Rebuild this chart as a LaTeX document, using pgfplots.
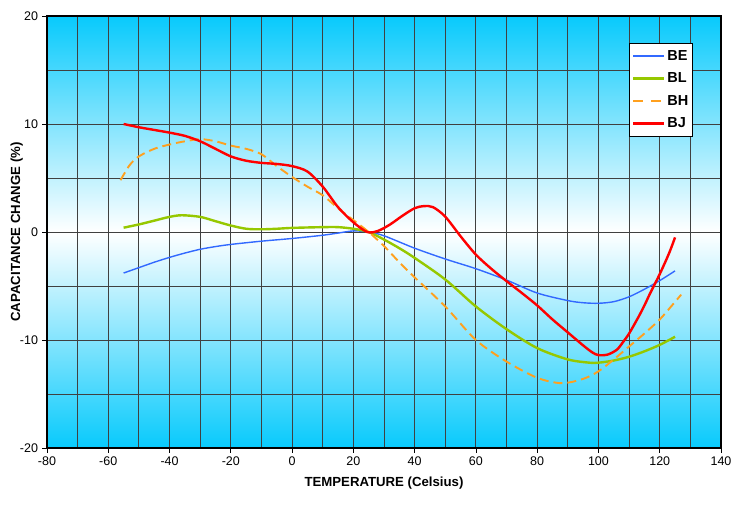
\documentclass[border=0pt]{standalone}
\usepackage{pgfplots}
\pgfplotsset{compat=1.18}
\usepackage{fontspec}
\setmainfont{Liberation Sans}
\definecolor{skyc}{RGB}{8,202,252}
\definecolor{cBE}{RGB}{50,105,255}
\definecolor{cBL}{RGB}{150,200,0}
\definecolor{cBH}{RGB}{255,160,30}
\definecolor{cBJ}{RGB}{255,0,0}
\begin{document}
\begin{tikzpicture}
\begin{axis}[
  scale only axis,
  width=674pt, height=432pt,
  xmin=-80, xmax=140, ymin=-20, ymax=20,
  xtick distance=20, ytick distance=10,
  minor x tick num=1, minor y tick num=1,
  grid=both,
  major grid style={black!75, line width=0.9pt},
  minor grid style={black!75, line width=0.9pt},
  axis line style={black, line width=1.3pt},
  tick align=outside,
  major tick length=4.5pt, minor tick length=0pt,
  xtick pos=bottom, ytick pos=left,
  tick style={black, line width=0.8pt},
  /pgf/number format/assume math mode=true,
  ticklabel style={font=\fontsize{12.5}{14}\selectfont},
  xticklabel style={yshift=-1pt},
  yticklabel style={xshift=-1pt},
  axis background/.style={top color=skyc, bottom color=skyc, middle color=white},
  xlabel={\bfseries TEMPERATURE (Celsius)},
  ylabel={\bfseries CAPACITANCE CHANGE (\%)},
  xlabel style={font=\fontsize{13.2}{15}\selectfont, at={(axis description cs:0.5,-0.081)}, anchor=center},
  ylabel style={font=\fontsize{13.2}{15}\selectfont, at={(axis description cs:-0.045,0.5)}, anchor=center, rotate=0},
  legend style={at={(axis description cs:0.9585,0.9375)}, anchor=north east,
    draw=black, line width=0.6pt, fill=white, font=\fontsize{14.5}{16}\selectfont\bfseries,
    cells={anchor=west}, row sep=7pt, inner xsep=2.5pt, inner ysep=5pt},
  every axis plot/.append style={smooth},
]
\addplot[cBE, line width=1.4pt, legend image code/.code={\draw[cBE, line width=1.4pt] (0pt,0pt) -- (31pt,0pt);}] coordinates {
(-55,-3.8) (-50,-3.3) (-45,-2.8) (-40,-2.35) (-35,-1.95) (-30,-1.6) (-25,-1.35) (-20,-1.15)
(-10,-0.85) (0,-0.6) (10,-0.3) (15,-0.1) (20,0.1) (25,0.0) (30,-0.35) (40,-1.5) (50,-2.5)
(60,-3.4) (70,-4.45) (80,-5.65) (90,-6.35) (95,-6.55) (100,-6.6) (105,-6.45) (110,-6.0)
(115,-5.3) (120,-4.5) (125,-3.6)};
\addlegendentry{BE}
\addplot[cBL, line width=2.4pt, legend image code/.code={\draw[cBL, line width=2.4pt] (0pt,0pt) -- (31pt,0pt);}] coordinates {
(-55,0.4) (-50,0.7) (-45,1.05) (-40,1.4) (-36,1.55) (-30,1.4) (-25,1.0) (-20,0.6) (-15,0.3)
(-10,0.25) (-5,0.3) (0,0.38) (10,0.45) (15,0.45) (20,0.3) (25,0.0) (30,-0.7) (35,-1.5)
(40,-2.4) (50,-4.4) (60,-6.9) (70,-9.0) (80,-10.75) (90,-11.8) (97,-12.1) (100,-12.1)
(105,-11.9) (110,-11.55) (115,-11.05) (120,-10.45) (125,-9.7)};
\addlegendentry{BL}
\addplot[cBH, line width=1.9pt, dash pattern=on 9pt off 5pt, legend image code/.code={\draw[cBH, line width=1.9pt, dash pattern=on 10pt off 8pt] (0pt,0pt) -- (31pt,0pt);}] coordinates {
(-56,4.8) (-53,6.2) (-50,7.0) (-45,7.7) (-40,8.1) (-35,8.4) (-30,8.6) (-25,8.4) (-20,8.0)
(-15,7.7) (-10,7.2) (-5,6.1) (0,5.1) (5,4.2) (10,3.4) (15,2.2) (20,1.1) (25,0.0) (30,-1.3)
(35,-2.8) (40,-4.2) (50,-6.9) (60,-10.0) (70,-12.0) (80,-13.5) (88,-14.0) (95,-13.6)
(100,-12.9) (105,-11.8) (110,-10.6) (115,-9.4) (120,-8.1) (124,-6.8) (127,-5.8)};
\addlegendentry{BH}
\addplot[cBJ, line width=2.4pt, legend image code/.code={\draw[cBJ, line width=2.4pt] (0pt,0pt) -- (31pt,0pt);}] coordinates {
(-55,10.0) (-50,9.7) (-45,9.45) (-40,9.2) (-35,8.9) (-30,8.4) (-25,7.7) (-20,7.0) (-15,6.6)
(-10,6.4) (-5,6.3) (0,6.1) (5,5.6) (10,4.2) (15,2.3) (20,0.9) (24.5,0.0) (28,0.1) (32,0.7)
(36,1.5) (40,2.2) (43,2.4) (46,2.3) (50,1.42) (55,-0.4) (60,-2.1) (65,-3.4) (70,-4.55)
(75,-5.65) (80,-6.8) (85,-8.1) (90,-9.3) (95,-10.5) (98,-11.15) (100,-11.4) (103,-11.35)
(106,-10.9) (108,-10.2) (110,-9.4) (113,-7.9) (115,-6.8) (117,-5.6) (120,-3.9) (123,-2.0)
(125,-0.5)};
\addlegendentry{BJ}
\end{axis}
\path ([xshift=-47pt,yshift=-57pt]current axis.south west) rectangle ([xshift=27pt,yshift=16pt]current axis.north east);
\end{tikzpicture}
\end{document}
